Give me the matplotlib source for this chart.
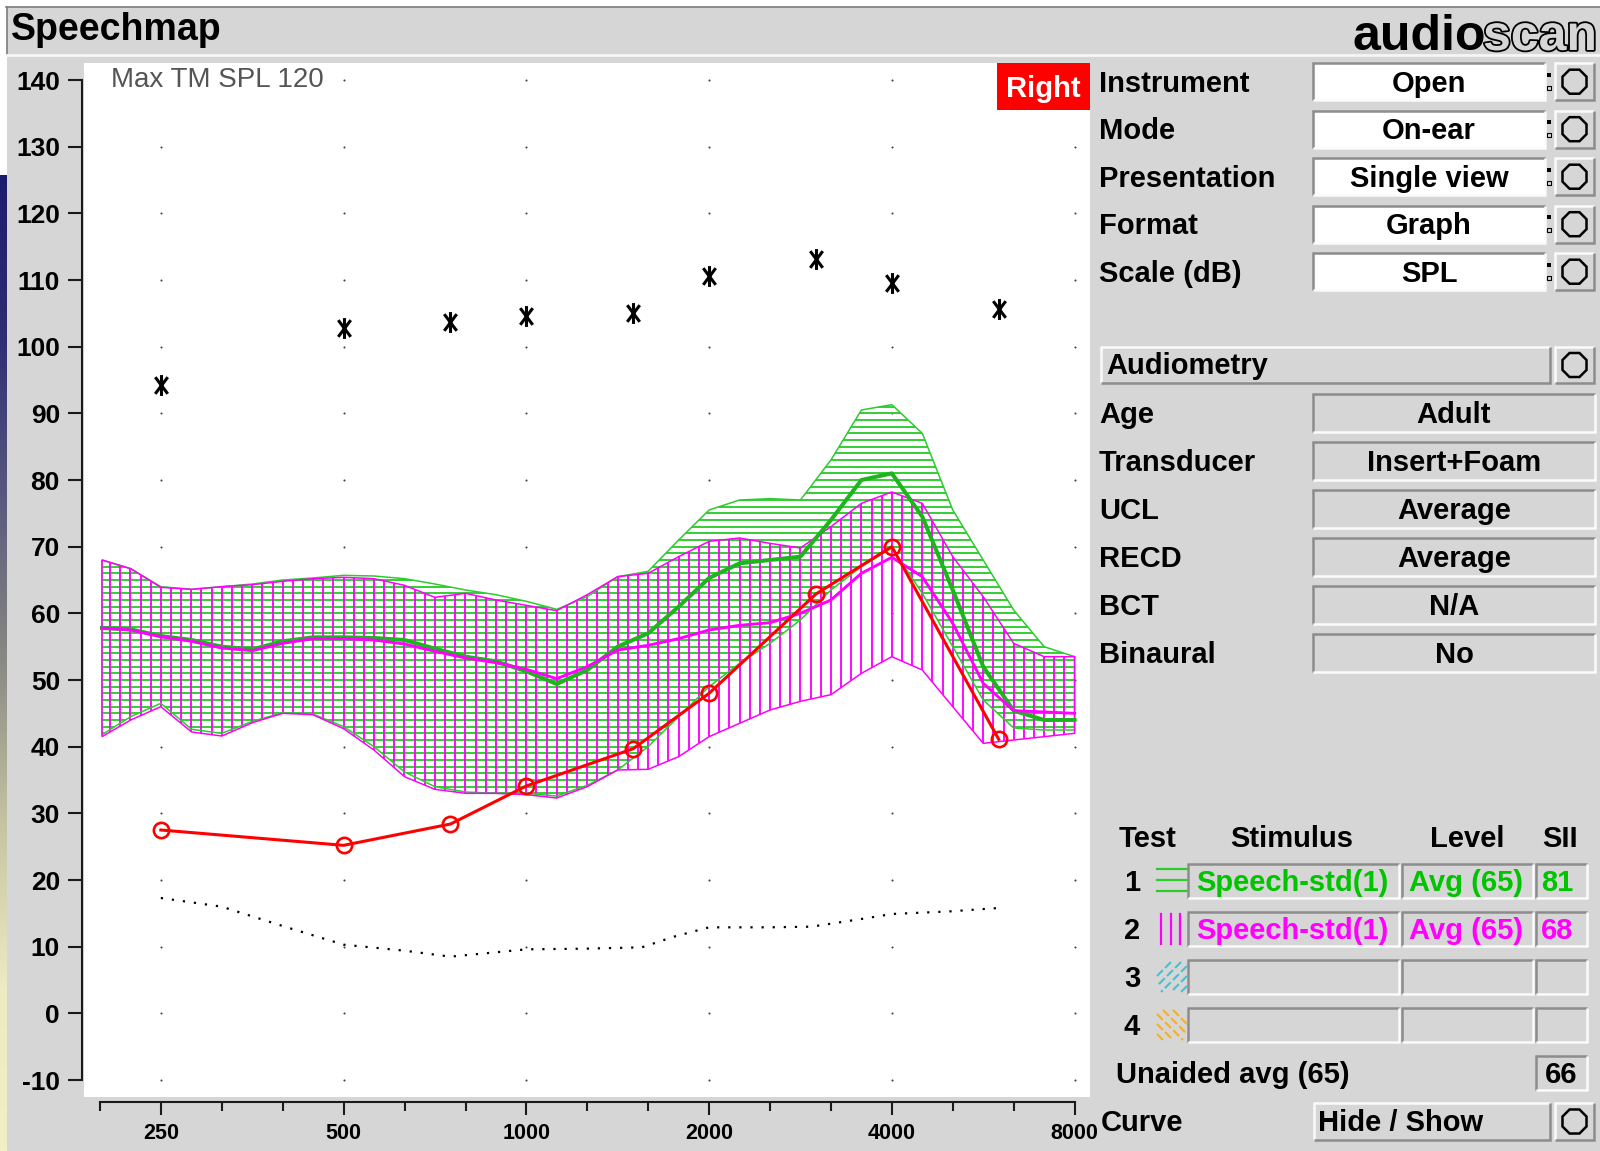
import numpy as np
import matplotlib
matplotlib.use("Agg")
import matplotlib.pyplot as plt
import matplotlib.patheffects as pe
from matplotlib import font_manager
from matplotlib.collections import LineCollection
from matplotlib.colors import LinearSegmentedColormap
from matplotlib.patches import Polygon, Rectangle, RegularPolygon
from matplotlib.path import Path
from matplotlib.ticker import FixedLocator, NullFormatter

plt.rcParams["font.family"] = ["Liberation Sans", "DejaVu Sans"]

# 1/6-octave analysis bands shared by both speech tests (Hz)
band_freqs = [200, 223, 250, 281, 315, 354, 397, 445, 500, 561, 630, 707, 794, 891,
              1000, 1122, 1260, 1414, 1587, 1782, 2000, 2245, 2520, 2828, 3175, 3564,
              4000, 4490, 5040, 5657, 6350, 7127, 8000]

# Test 1 (green, horizontal hatch): speech envelope in dB SPL
test1_upper = [68.0, 66.7, 64.0, 63.6, 64.0, 64.4, 65.0, 65.3, 65.7, 65.6, 65.2, 64.4,
               63.5, 62.8, 61.8, 60.6, 62.5, 65.5, 66.3, 71.0, 75.5, 77.0, 77.2, 77.0,
               83.0, 90.5, 91.3, 87.0, 75.5, 68.0, 60.5, 55.0, 53.5]
test1_center = [57.8, 57.6, 56.6, 56.0, 55.0, 54.6, 55.8, 56.4, 56.4, 56.3, 56.0, 54.7,
                53.5, 52.8, 51.3, 49.4, 51.5, 55.0, 57.0, 61.0, 65.3, 67.5, 68.0, 68.5,
                74.0, 80.0, 81.0, 74.5, 63.5, 52.0, 45.4, 44.0, 44.0]
test1_lower = [41.8, 44.5, 46.5, 42.6, 42.0, 43.8, 45.1, 44.9, 43.0, 40.0, 36.2, 34.0,
               33.2, 33.0, 33.0, 32.6, 34.2, 36.5, 40.0, 44.5, 49.0, 52.5, 55.5, 59.0,
               63.5, 67.0, 69.8, 63.0, 55.0, 47.0, 42.8, 42.5, 42.5]

# Test 2 (magenta, vertical hatch)
test2_upper = [68.0, 66.7, 63.9, 63.6, 64.0, 64.3, 64.8, 65.2, 65.4, 65.2, 64.2, 62.4,
               63.0, 62.0, 61.2, 60.4, 62.8, 65.5, 66.0, 68.5, 70.8, 71.3, 70.5, 69.8,
               73.0, 76.5, 78.2, 76.5, 68.5, 62.5, 55.5, 53.5, 53.5]
test2_center = [57.8, 57.5, 56.5, 55.8, 54.8, 54.4, 55.5, 56.2, 56.2, 56.0, 55.4, 54.3,
                53.3, 52.6, 51.6, 50.2, 52.0, 54.5, 55.2, 56.2, 57.5, 58.2, 58.6, 60.0,
                62.0, 66.0, 68.4, 65.5, 58.5, 49.5, 45.4, 45.2, 45.0]
test2_lower = [41.5, 44.0, 46.0, 42.2, 41.6, 43.6, 45.0, 44.8, 42.7, 39.5, 35.5, 33.6,
               33.0, 33.0, 32.8, 32.3, 34.0, 36.5, 36.6, 38.5, 41.5, 43.5, 45.5, 46.8,
               47.8, 51.0, 53.5, 51.5, 46.0, 40.5, 41.0, 41.5, 42.0]

# Audiometry
audiogram_freqs = [250, 500, 750, 1000, 1500, 2000, 3000, 4000, 6000]
threshold_spl = [27.5, 25.2, 28.4, 34.1, 39.7, 48.0, 62.9, 70.0, 41.1]
ucl_spl = [94.2, 102.8, 103.7, 104.6, 105.0, 110.6, 113.2, 109.5, 105.6]

normal_freqs = [250, 315, 400, 500, 630, 750, 1000, 1250, 1550, 1750, 2000, 2500,
                2950, 3650, 4000, 5000, 6000]
normal_spl = [17.3, 16.0, 13.0, 10.3, 9.4, 8.5, 9.6, 9.7, 9.9, 11.5, 12.9, 12.9,
              13.0, 14.3, 14.9, 15.3, 15.8]

octave_freqs = [250, 500, 1000, 2000, 4000, 8000]
octave_labels = ["250", "500", "1000", "2000", "4000", "8000"]
third_octave_freqs = [198.4, 315, 397, 630, 794, 1260, 1587, 2520, 3175, 5040, 6350]
db_ticks = list(range(-10, 141, 10))

setup_labels = ["Instrument", "Mode", "Presentation", "Format", "Scale (dB)"]
setup_values = ["Open", "On-ear", "Single view", "Graph", "SPL"]
audiometry_labels = ["Age", "Transducer", "UCL", "RECD", "BCT", "Binaural"]
audiometry_values = ["Adult", "Insert+Foam", "Average", "Average", "N/A", "No"]
test_ids = ["1", "2", "3", "4"]
test_stimulus = ["Speech-std(1)", "Speech-std(1)", "", ""]
test_levels = ["Avg (65)", "Avg (65)", "", ""]
test_sii = ["81", "68", "", ""]
unaided_sii = "66"

# ---- styling ----
W, H, DPI = 1600, 1151, 100
PANEL = "#d6d6d6"
GREEN = "#2ccc2c"
GREEN_LINE = "#1db41d"
TEXT_GREEN = "#00c400"
MAGENTA = "#ff00ff"
RED = "#ff0000"


def installed(name):
    try:
        font_manager.findfont(name, fallback_to_default=False)
        return True
    except ValueError:
        return False


# frequency labels use a condensed face when one is available
if installed("Liberation Sans Narrow"):
    freq_font, freq_size = "Liberation Sans Narrow", 17
else:
    freq_font, freq_size = "Liberation Sans", 15.5

fig = plt.figure(figsize=(W / DPI, H / DPI), dpi=DPI)
fig.patch.set_facecolor("white")

bg = fig.add_axes([0, 0, 1, 1], zorder=0)
bg.set_axis_off()

# window chrome
slide = LinearSegmentedColormap.from_list(
    "slide", ["#1c1c6c", "#2e2e74", "#5a5a7e", "#8a8a84", "#c6c4a2", "#eeeac2", "#f2eec6"])
bg.imshow(np.linspace(0, 1, 256).reshape(-1, 1), extent=(0, 7, H, 175),
          cmap=slide, aspect="auto", zorder=0)
bg.add_patch(Rectangle((7, 7), W - 7, H - 7, facecolor=PANEL, edgecolor="none", zorder=1))
bg.plot([6, W], [7, 7], color="#7c7c7c", lw=1.2, zorder=2)
bg.plot([6.5, 6.5], [7, 55], color="#7c7c7c", lw=1.2, zorder=2)
bg.plot([7, W], [55, 55], color="#f6f6f6", lw=2, zorder=2)
bg.text(11, 40, "Speechmap", fontsize=27, fontweight="bold", va="baseline", zorder=3)
bg.text(1352, 50, "audio", fontsize=36, fontweight="bold", va="baseline", zorder=3)
bg.text(1597, 50, "scan", fontsize=36, fontweight="bold", va="baseline", ha="right",
        color=PANEL, zorder=3,
        path_effects=[pe.withStroke(linewidth=2.6, foreground="black")])


def bevel(x0, y0, x1, y1, face, raised):
    bg.add_patch(Rectangle((x0, y0), x1 - x0, y1 - y0, facecolor=face,
                           edgecolor="none", zorder=2))
    hi, lo = "#fbfbfb", "#8c8c8c"
    tl, br = (hi, lo) if raised else (lo, hi)
    bg.plot([x0, x0, x1], [y1, y0, y0], color=tl, lw=1.8, zorder=3,
            solid_joinstyle="miter", solid_capstyle="butt")
    bg.plot([x0, x1, x1], [y1, y1, y0], color=br, lw=1.8, zorder=3,
            solid_joinstyle="miter", solid_capstyle="butt")


def button(y0, y1):
    bevel(1555, y0, 1594, y1, PANEL, True)
    bg.add_patch(RegularPolygon((1574.5, (y0 + y1) / 2), 8, radius=13,
                                orientation=np.pi / 8, fill=False,
                                edgecolor="black", lw=1.8, zorder=4))


def text(x, yc, s, ha="left", color="black", size=21, weight="bold"):
    bg.text(x, yc + 10, s, ha=ha, va="baseline", fontsize=size,
            fontweight=weight, color=color, zorder=5)


def diagonal_swatch(x0, y0, size, color, rising):
    # short diagonal strokes kept inside a size x size square
    for c in np.arange(6, 2 * size - 4, 10):
        t0, t1 = max(0, c - size), min(c, size)
        ys = [y0 + size - (c - t0), y0 + size - (c - t1)]
        xs = [x0 + size - t0, x0 + size - t1] if rising else [x0 + t0, x0 + t1]
        bg.plot(xs, ys, color=color, lw=1.5, zorder=4, solid_capstyle="butt",
                ls=(0, (4, 1.5)))


# setup rows with value boxes
for i, (lab, val) in enumerate(zip(setup_labels, setup_values)):
    yc = 81.7 + i * 47.5
    text(1099, yc, lab)
    bevel(1313, yc - 18.5, 1545, yc + 18.5, "white", False)
    text(1429, yc, val, ha="center")
    bg.add_patch(Rectangle((1547, yc - 9), 4, 4, facecolor="black", zorder=4))
    bg.add_patch(Rectangle((1547, yc + 4), 4, 4, facecolor="none",
                           edgecolor="black", lw=0.8, zorder=4))
    button(yc - 18.5, yc + 18.5)

# audiometry block
bevel(1101, 347, 1550, 383, PANEL, True)
text(1106, 364, "Audiometry")
button(347, 383)
for i, (lab, val) in enumerate(zip(audiometry_labels, audiometry_values)):
    yc = 413 + i * 48
    text(1099, yc, lab)
    bevel(1313, yc - 19, 1595, yc + 19, PANEL, False)
    text(1454, yc, val, ha="center")

# test table
text(1148, 836.7, "Test", ha="center")
text(1292, 836.7, "Stimulus", ha="center")
text(1467, 836.7, "Level", ha="center")
text(1560, 836.7, "SII", ha="center")
row_colors = [TEXT_GREEN, MAGENTA, "black", "black"]
for i, tid in enumerate(test_ids):
    yc = 881 + i * 48
    text(1132, yc, tid, ha="center")
    bevel(1188, yc - 17, 1399, yc + 17, PANEL, False)
    bevel(1402, yc - 17, 1533, yc + 17, PANEL, False)
    bevel(1536, yc - 17, 1587, yc + 17, PANEL, False)
    text(1196, yc, test_stimulus[i], color=row_colors[i])
    text(1409, yc, test_levels[i], color=row_colors[i])
    text(1541, yc, test_sii[i], color=row_colors[i])

# legend swatches next to the test numbers
for dy in (-12, -1, 10):
    bg.plot([1157, 1187], [881 + dy, 881 + dy], color=GREEN, lw=1.6, zorder=4)
for dx in (1161, 1170.5, 1180):
    bg.plot([dx, dx], [914, 944], color=MAGENTA, lw=1.6, zorder=4)
diagonal_swatch(1157, 962, 30, "#3cc4d8", True)
diagonal_swatch(1157, 1010, 30, "#f0b030", False)

text(1116, 1073, "Unaided avg (65)")
bevel(1536, 1056, 1587, 1090, PANEL, False)
text(1561, 1073, unaided_sii, ha="center")

text(1101, 1121, "Curve")
bevel(1314, 1103, 1550, 1140, PANEL, True)
text(1318, 1121, "Hide / Show")
button(1103, 1140)

bg.set_xlim(0, W)
bg.set_ylim(H, 0)

# ---- graph ----
ax = fig.add_axes([84 / W, 1 - 1097 / H, (1090 - 84) / W, (1097 - 63) / H], zorder=1)
ax.set_xscale("log", base=2)
ax.set_xlim(186.8, 8482)
ax.set_ylim(-12.55, 142.55)
for s in ("top", "right"):
    ax.spines[s].set_visible(False)
ax.spines["left"].set_position(("outward", 1.5))
ax.spines["left"].set_bounds(-10, 140)
ax.spines["bottom"].set_position(("outward", 3.6))
ax.spines["bottom"].set_bounds(198.4, 8000)
for s in ("left", "bottom"):
    ax.spines[s].set_linewidth(1.5)
    ax.spines[s].set_color("#1a1a1a")

ax.set_yticks(db_ticks, labels=[str(v) for v in db_ticks], fontsize=19, fontweight="bold")
ax.set_xticks(octave_freqs, labels=octave_labels, fontsize=freq_size, fontweight="bold",
              family=[freq_font, "Liberation Sans"])
ax.xaxis.set_minor_locator(FixedLocator(third_octave_freqs))
ax.xaxis.set_minor_formatter(NullFormatter())
ax.tick_params(axis="y", length=10, width=1.5, pad=5.8, color="#1a1a1a")
ax.tick_params(axis="x", which="major", length=9.4, width=1.5, pad=5.5, color="#1a1a1a")
ax.tick_params(axis="x", which="minor", length=6.5, width=1.5, color="#1a1a1a")

gx, gy = np.meshgrid(octave_freqs, db_ticks)
ax.scatter(gx.ravel(), gy.ravel(), s=2.2, color="#404040", linewidths=0, zorder=1)


def speech_band(upper, lower, color, horizontal, z):
    verts = list(zip(band_freqs, upper)) + list(zip(band_freqs[::-1], lower[::-1]))
    outline = Polygon(verts, closed=True, facecolor="none", edgecolor=color,
                      lw=1.1, zorder=z + 0.5)
    ax.add_patch(outline)
    if horizontal:
        segs = [[(150, y), (9000, y)] for y in np.arange(20, 100, 1.0)]
    else:
        segs = [[(x, -20), (x, 150)] for x in 250 * 2 ** (np.arange(-10, 100) / 18)]
    hatch = LineCollection(segs, colors=color, linewidths=1.35, zorder=z)
    ax.add_collection(hatch, autolim=False)
    hatch.set_clip_path(outline)


speech_band(test1_upper, test1_lower, GREEN, True, 2)
speech_band(test2_upper, test2_lower, MAGENTA, False, 2.2)
ax.plot(band_freqs, test1_center, color=GREEN_LINE, lw=2.9, zorder=4)
ax.plot(band_freqs, test2_center, color=MAGENTA, lw=2.1, zorder=4.1)

ax.plot(normal_freqs, normal_spl, color="black", lw=1.6, ls=(0, (1, 4)), zorder=3)
ax.plot(audiogram_freqs, threshold_spl, color=RED, lw=2.2, marker="o", ms=11,
        mfc="none", mec=RED, mew=1.9, zorder=5)

ucl_marker = Path([(0, -1), (0, 1), (-0.6, -0.8), (0.6, 0.8), (-0.6, 0.8), (0.6, -0.8)],
                  [Path.MOVETO, Path.LINETO] * 3)
ax.plot(audiogram_freqs, ucl_spl, ls="none", marker=ucl_marker, ms=15, mew=2.2,
        color="black", zorder=5)

# ---- overlays on the graph ----
fg = fig.add_axes([0, 0, 1, 1], zorder=2)
fg.set_axis_off()
fg.text(111, 86.5, "Max TM SPL 120", fontsize=20, color="#555555", va="baseline",
        bbox=dict(facecolor="white", edgecolor="none", pad=0))
fg.add_patch(Rectangle((997, 63), 93, 47, facecolor=RED, edgecolor="none"))
fg.text(1043.5, 96.5, "Right", fontsize=21, fontweight="bold", color="white",
        ha="center", va="baseline")
fg.set_xlim(0, W)
fg.set_ylim(H, 0)

fig.savefig("out.png", dpi=DPI)
